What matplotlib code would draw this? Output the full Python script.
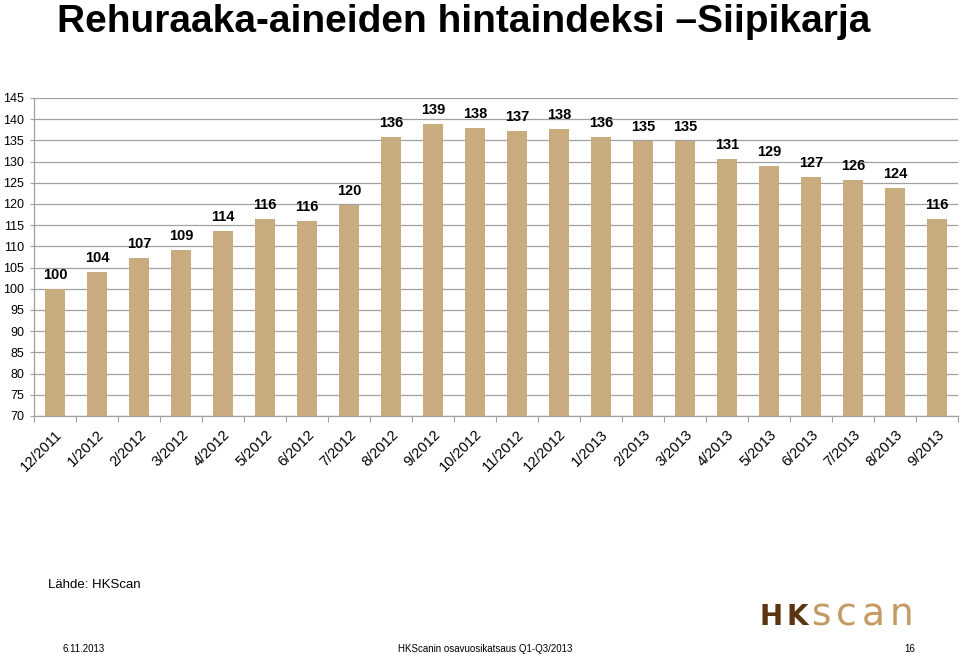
import matplotlib
matplotlib.use('Agg')
import matplotlib.pyplot as plt
import numpy as np

# data
months = ['12/2011', '1/2012', '2/2012', '3/2012', '4/2012', '5/2012', '6/2012',
          '7/2012', '8/2012', '9/2012', '10/2012', '11/2012', '12/2012', '1/2013',
          '2/2013', '3/2013', '4/2013', '5/2013', '6/2013', '7/2013', '8/2013', '9/2013']
index_values = [100.0, 104.0, 107.3, 109.2, 113.6, 116.5, 116.0, 119.8, 135.8, 138.9,
                137.9, 137.2, 137.7, 135.8, 134.9, 134.9, 130.6, 129.0, 126.4, 125.7,
                123.8, 116.5]
value_labels = ['100', '104', '107', '109', '114', '116', '116', '120', '136', '139',
                '138', '137', '138', '136', '135', '135', '131', '129', '127', '126',
                '124', '116']
y_ticks = list(range(70, 146, 5))

bar_color = '#C9AB80'
grid_color = '#a0a0a0'

plt.rcParams['font.family'] = ['Liberation Sans', 'DejaVu Sans']

fig = plt.figure(figsize=(9.6, 6.54), dpi=100)
ax = fig.add_axes([34/960, 1 - 416/654, (958 - 34)/960, (416 - 98)/654])

x = np.arange(len(months))
ax.bar(x, np.array(index_values) - 70, bottom=70, width=0.48, color=bar_color, zorder=3)

for xi, v, lab in zip(x, index_values, value_labels):
    ax.annotate(lab, (xi, v), xytext=(0, 5), textcoords='offset points',
                ha='center', va='bottom', fontsize=10.5, fontweight='bold', zorder=4)

ax.set_xlim(-0.5, len(months) - 0.5)
ax.set_ylim(70, 145)
ax.set_yticks(y_ticks)
ax.set_yticklabels([str(t) for t in y_ticks], fontsize=9)
ax.yaxis.grid(True, color=grid_color, linewidth=0.9, zorder=0)
ax.tick_params(axis='y', length=3, color=grid_color, pad=4, direction='out')

# category boundaries as ticks, labels centred on bars
ax.set_xticks(np.arange(-0.5, len(months)), minor=False)
ax.set_xticklabels([])
ax.set_xticks(x, minor=True)
ax.set_xticklabels(months, minor=True, rotation=45, ha='right', va='top',
                   rotation_mode='anchor', fontsize=10.5)
ax.tick_params(axis='x', which='major', length=4, color=grid_color, direction='out')
ax.tick_params(axis='x', which='minor', length=0, pad=8)

for s in ['top', 'right']:
    ax.spines[s].set_visible(False)
for s in ['left', 'bottom']:
    ax.spines[s].set_color(grid_color)
    ax.spines[s].set_linewidth(0.9)

fig.text(57/960, 1 - 32/654, 'Rehuraaka-aineiden hintaindeksi \u2013Siipikarja',
         fontsize=28, fontweight='bold', ha='left', va='baseline')

fig.text(48/960, 1 - 585/654, 'Lähde: HKScan', fontsize=9.5, ha='left', va='center')
fig.text(62/960, 1 - 649/654, '6.11.2013', fontsize=7, ha='left', va='center')
fig.text(485/960, 1 - 649/654, 'HKScanin osavuosikatsaus Q1-Q3/2013', fontsize=7,
         ha='center', va='center')
fig.text(915/960, 1 - 649/654, '16', fontsize=7, ha='right', va='center')

# logo, letter by letter so it can be spaced out
fig.canvas.draw()
rend = fig.canvas.get_renderer()
xpos = 760
logo = [('H', '#5B3413', 'bold', 20, 3), ('K', '#5B3413', 'bold', 20, 4),
        ('s', '#C49A62', 'normal', 27, 5), ('c', '#C49A62', 'normal', 27, 5),
        ('a', '#C49A62', 'normal', 27, 5), ('n', '#C49A62', 'normal', 27, 0)]
for ch, col, wt, fs, gap in logo:
    t = fig.text(xpos/960, 1 - 625/654, ch, fontsize=fs, fontweight=wt, color=col,
                 family='DejaVu Sans', ha='left', va='baseline')
    xpos = t.get_window_extent(rend).x1 + gap

fig.savefig('out.png', dpi=100)
